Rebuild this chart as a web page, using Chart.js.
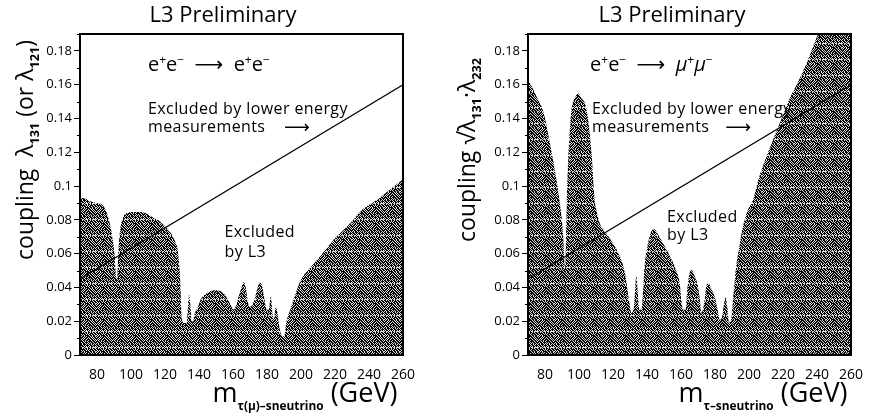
<!DOCTYPE html>
<html>
<head>
<meta charset="utf-8">
<script src="https://cdn.jsdelivr.net/npm/chart.js@4/dist/chart.umd.min.js"></script>
<style>
  html, body { margin:0; padding:0; background:#fff; }
  #wrap { position:relative; width:884px; height:415px; }
  canvas { position:absolute; top:0; }
</style>
</head>
<body>
<div id="wrap">
  <canvas id="leftChart" width="442" height="415" style="left:0"></canvas>
  <canvas id="rightChart" width="442" height="415" style="left:442px"></canvas>
</div>
<script>
/* ── DATA ── */
const X_TICKS = [80, 100, 120, 140, 160, 180, 200, 220, 240, 260];
const Y_TICKS = [0, 0.02, 0.04, 0.06, 0.08, 0.1, 0.12, 0.14, 0.16, 0.18];

// e+e- -> e+e- : upper edge of shaded region
const LEFT_MASS = [70, 72, 76, 80, 83, 85, 87, 89, 90.3, 91.3, 91.8, 92.5, 93.5, 95.6, 98, 100.5, 106, 112, 117.7, 123.5,
  126, 127.4, 128.5, 129, 130, 131, 132.8, 133.6, 134.2, 134.9, 135.6, 136.5, 137.3, 139.5, 141, 143.4, 146, 149.2, 153, 155,
  157, 159, 160.3, 161.3, 163.6, 165, 166.3, 167.5, 168.5, 169.6, 171, 172.7, 174.5, 176, 177.3, 178.5, 179.8, 181, 182.3, 183.3,
  184, 185, 186, 186.8, 188, 190, 191.3, 194, 196.2, 200, 205, 209.7, 215, 219.4, 225, 229, 235, 238.8, 245, 250, 255, 260];
const LEFT_COUPLING = [0.093, 0.093, 0.091, 0.090, 0.089, 0.086, 0.080, 0.070, 0.060, 0.046, 0.045, 0.060, 0.073, 0.082, 0.084, 0.0847, 0.0847, 0.082, 0.0785, 0.072,
  0.067, 0.0625, 0.052, 0.043, 0.021, 0.019, 0.019, 0.030, 0.0357, 0.030, 0.020, 0.020, 0.024, 0.0287, 0.033, 0.0357, 0.0375, 0.0383, 0.0377, 0.036,
  0.0327, 0.029, 0.0268, 0.028, 0.0357, 0.040, 0.043, 0.040, 0.033, 0.0287, 0.029, 0.033, 0.040, 0.043, 0.040, 0.033, 0.0268, 0.027, 0.0347, 0.024,
  0.021, 0.028, 0.026, 0.020, 0.013, 0.011, 0.019, 0.028, 0.0347, 0.0446, 0.051, 0.0565, 0.063, 0.0684, 0.074, 0.078, 0.085, 0.088, 0.092, 0.096, 0.100, 0.104];

// e+e- -> mu+mu- : upper edge of shaded region
const RIGHT_MASS = [70, 71, 75, 79, 82.8, 86.7, 89, 90.6, 91.3, 91.7, 92.2, 92.8, 93.5, 94.5, 95.7, 97.5, 99.4, 101.5, 104.3, 107.2,
  109.2, 110.2, 112.2, 116, 120, 124, 127, 129.4, 130.8, 132.2, 133.1, 133.7, 134.4, 135.3, 136.7, 137.8, 138.6, 140, 141.6, 143,
  144.5, 146, 147.5, 151.4, 155.3, 157.5, 159.2, 160.3, 161.2, 162.7, 163.8, 165, 166, 167.5, 170, 171.2, 172, 173.5, 174.8, 175.9,
  177.5, 179.8, 181.5, 182.8, 184, 185.3, 186.3, 187.3, 188.2, 189.5, 190.6, 191.5, 192.5, 194.5, 196.5, 199, 202.4, 205, 208.2, 212,
  216, 220, 224, 228, 231.8, 236, 239.6, 241, 260];
const RIGHT_COUPLING = [0.162, 0.161, 0.153, 0.144, 0.126, 0.104, 0.088, 0.072, 0.058, 0.051, 0.060, 0.090, 0.112, 0.132, 0.146, 0.152, 0.155, 0.152, 0.146, 0.122,
  0.092, 0.086, 0.078, 0.072, 0.066, 0.0585, 0.0487, 0.0327, 0.025, 0.028, 0.040, 0.047, 0.040, 0.028, 0.0268, 0.040, 0.0525, 0.063, 0.0704, 0.074,
  0.0744, 0.072, 0.0696, 0.0625, 0.0547, 0.049, 0.0428, 0.032, 0.0268, 0.027, 0.040, 0.048, 0.0506, 0.048, 0.0406, 0.032, 0.025, 0.030, 0.040, 0.0427,
  0.040, 0.0347, 0.027, 0.0208, 0.022, 0.030, 0.034, 0.028, 0.019, 0.021, 0.0327, 0.043, 0.0525, 0.065, 0.0763, 0.085, 0.092, 0.102, 0.112, 0.122,
  0.132, 0.142, 0.152, 0.160, 0.168, 0.178, 0.1875, 0.19, 0.19];

// lower energy limit line
const LIMIT_MASS = [70, 260];
const LIMIT_COUPLING = [0.045, 0.16];

/* ── STYLE ── */
const FONT = '"Open Sans", "DejaVu Sans", sans-serif';
// halftone-ish dot pattern for the shaded regions
const DITHER = [
  '1011010111010110',
  '0110101101101011',
  '1101011010110101',
  '1010110111011010',
  '0101101101101101',
  '1110101011110110',
  '1011011101011011',
  '0101101010101101',
  '1101110101101010',
  '0110101110110111',
  '1011010101011010',
  '0100100010010000',
  '1101011011010110',
  '0111101010111011',
  '1010110101101101',
  '0101011110110110'
];

function makeTexture(ctx) {
  const n = DITHER.length;
  const c = document.createElement('canvas');
  c.width = n; c.height = n;
  const g = c.getContext('2d');
  g.fillStyle = '#d8d8d8';
  g.fillRect(0, 0, n, n);
  g.fillStyle = '#000';
  DITHER.forEach((row, j) => [...row].forEach((b, i) => { if (b === '1') g.fillRect(i, j, 1, 1); }));
  return ctx.createPattern(c, 'repeat');
}

/* ── RICH TEXT (sub / superscripts) ── */
function segFont(s, size) {
  const sz = s.k === 'sub' || s.k === 'sup' ? size * (s.scale || 0.55) : size;
  return `${s.italic ? 'italic ' : ''}${s.bold ? 'bold ' : ''}${sz}px ${FONT}`;
}
function segDy(s, size) {
  if (s.k === 'sub') return size * 0.28;
  if (s.k === 'sup') return -size * 0.38;
  return 0;
}
function richWidth(ctx, segs, size) {
  return segs.reduce((w, s) => { ctx.font = segFont(s, size); return w + ctx.measureText(s.t).width; }, 0);
}
function drawRich(ctx, segs, x, y, size, align) {
  let cx = x;
  if (align === 'center') cx -= richWidth(ctx, segs, size) / 2;
  ctx.textBaseline = 'alphabetic';
  ctx.textAlign = 'left';
  segs.forEach(s => {
    ctx.font = segFont(s, size);
    ctx.fillText(s.t, cx, y + segDy(s, size));
    cx += ctx.measureText(s.t).width;
  });
}

/* ── PLUGINS ── */
const framePlugin = {
  id: 'frame',
  afterDatasetsDraw(chart) {
    const { ctx, chartArea: a, scales: { y } } = chart;
    ctx.save();
    ctx.strokeStyle = '#000';
    ctx.lineWidth = 2;
    ctx.strokeRect(a.left, a.top, a.right - a.left, a.bottom - a.top);
    // minor ticks halfway between the major ones
    ctx.lineWidth = 1;
    for (let i = 0; i < Y_TICKS.length; i++) {
      const mid = i < Y_TICKS.length - 1 ? (Y_TICKS[i] + Y_TICKS[i + 1]) / 2 : Y_TICKS[i] + 0.01;
      const py = Math.round(y.getPixelForValue(mid)) + 0.5;
      ctx.beginPath();
      ctx.moveTo(a.left - 3, py);
      ctx.lineTo(a.left, py);
      ctx.stroke();
    }
    ctx.restore();
  }
};

const textPlugin = {
  id: 'texts',
  afterDraw(chart, args, o) {
    const { ctx, scales: { x, y } } = chart;
    ctx.save();
    ctx.fillStyle = '#000';
    // title
    drawRich(ctx, [{ t: 'L3 Preliminary' }], o.titleX, 22, 22, 'center');
    // reaction
    drawRich(ctx, o.reaction, x.getPixelForValue(o.reactionAt[0]), y.getPixelForValue(o.reactionAt[1]), 20, 'left');
    // lower energy note
    ctx.font = `16px ${FONT}`;
    ctx.letterSpacing = '0.4px';
    ctx.textAlign = 'left';
    ctx.textBaseline = 'middle';
    ctx.fillText('Excluded by lower energy', x.getPixelForValue(o.noteAt[0]), y.getPixelForValue(o.noteAt[1]));
    ctx.fillText('measurements', x.getPixelForValue(o.noteAt[0]), y.getPixelForValue(o.noteAt[2]));
    ctx.font = `18px "DejaVu Sans", sans-serif`;
    ctx.fillText('\u27F6', x.getPixelForValue(o.arrowAt), y.getPixelForValue(o.noteAt[2]));
    // L3 note
    ctx.font = `16px ${FONT}`;
    ctx.fillText('Excluded', x.getPixelForValue(o.l3At[0]), y.getPixelForValue(o.l3At[1]));
    ctx.fillText('by L3', x.getPixelForValue(o.l3At[0]), y.getPixelForValue(o.l3At[2]));
    ctx.letterSpacing = '0px';
    // x title
    drawRich(ctx, o.xTitle, o.xTitleX, 402, 27, 'center');
    // y title
    ctx.save();
    ctx.translate(o.yTitleX, 150);
    ctx.rotate(-Math.PI / 2);
    drawRich(ctx, o.yTitle, 0, 0, 23, 'center');
    ctx.restore();
    ctx.restore();
  }
};

/* ── CHARTS ── */
function buildChart(id, mass, coupling, left, right, texts) {
  const canvas = document.getElementById(id);
  const pattern = makeTexture(canvas.getContext('2d'));
  return new Chart(canvas, {
    type: 'line',
    data: {
      datasets: [
        {
          data: LIMIT_MASS.map((m, i) => ({ x: m, y: LIMIT_COUPLING[i] })),
          borderColor: '#000', borderWidth: 1.2, pointRadius: 0, fill: false, order: 1
        },
        {
          data: mass.map((m, i) => ({ x: m, y: coupling[i] })),
          fill: 'origin', backgroundColor: pattern, borderWidth: 0, pointRadius: 0,
          cubicInterpolationMode: 'monotone', order: 2
        }
      ]
    },
    options: {
      responsive: false,
      animation: false,
      layout: { padding: { left: 0, top: 34, right: 442 - right, bottom: 0 } },
      plugins: { legend: { display: false }, tooltip: { enabled: false }, texts: texts },
      scales: {
        x: {
          type: 'linear', min: 70, max: 260,
          afterBuildTicks: s => { s.ticks = X_TICKS.map(v => ({ value: v })); },
          afterFit: s => { s.height = 60; },
          grid: { display: false }, border: { display: false },
          ticks: { color: '#000', font: { family: FONT, size: 14 }, padding: 4, maxRotation: 0, autoSkip: false }
        },
        y: {
          type: 'linear', min: 0, max: 0.19,
          afterBuildTicks: s => { s.ticks = Y_TICKS.map(v => ({ value: v })); },
          afterFit: s => { s.width = left; },
          grid: { drawOnChartArea: false, tickLength: 6, color: '#000' }, border: { display: false },
          ticks: { color: '#000', font: { family: FONT, size: 13 }, padding: 2, autoSkip: false,
                   callback: v => String(+v.toFixed(2)) }
        }
      }
    },
    plugins: [framePlugin, textPlugin]
  });
}

buildChart('leftChart', LEFT_MASS, LEFT_COUPLING, 80, 403, {
  titleX: 223,
  reaction: [{ t: 'e' }, { t: '+', k: 'sup', scale: 0.6 }, { t: 'e' }, { t: '\u2212', k: 'sup', scale: 0.6 },
             { t: '  \u27F6  ' }, { t: 'e' }, { t: '+', k: 'sup', scale: 0.6 }, { t: 'e' }, { t: '\u2212', k: 'sup', scale: 0.6 }],
  reactionAt: [110, 0.168],
  noteAt: [110, 0.1456, 0.1344],
  arrowAt: 190,
  l3At: [155, 0.0728, 0.061],
  xTitle: [{ t: 'm' }, { t: '\u03C4(\u03BC)\u2013sneutrino', k: 'sub', bold: true, scale: 0.44 }, { t: ' (GeV)' }],
  xTitleX: 305,
  yTitle: [{ t: 'coupling  \u03BB' }, { t: '131', k: 'sub', bold: true }, { t: ' (or \u03BB' }, { t: '121', k: 'sub', bold: true }, { t: ')' }],
  yTitleX: 33
});

buildChart('rightChart', RIGHT_MASS, RIGHT_COUPLING, 86, 409, {
  titleX: 230,
  reaction: [{ t: 'e' }, { t: '+', k: 'sup', scale: 0.6 }, { t: 'e' }, { t: '\u2212', k: 'sup', scale: 0.6 },
             { t: '  \u27F6  ' }, { t: '\u03BC', italic: true }, { t: '+', k: 'sup', scale: 0.6 }, { t: '\u03BC', italic: true }, { t: '\u2212', k: 'sup', scale: 0.6 }],
  reactionAt: [106.5, 0.168],
  noteAt: [107.6, 0.1456, 0.1344],
  arrowAt: 186,
  l3At: [151.8, 0.0817, 0.071],
  xTitle: [{ t: 'm' }, { t: '\u03C4\u2013sneutrino', k: 'sub', bold: true, scale: 0.44 }, { t: ' (GeV)' }],
  xTitleX: 321,
  yTitle: [{ t: 'coupling \u221A\u03BB' }, { t: '131', k: 'sub', bold: true }, { t: '\u00B7\u03BB' }, { t: '232', k: 'sub', bold: true }],
  yTitleX: 33
});
</script>
</body>
</html>
